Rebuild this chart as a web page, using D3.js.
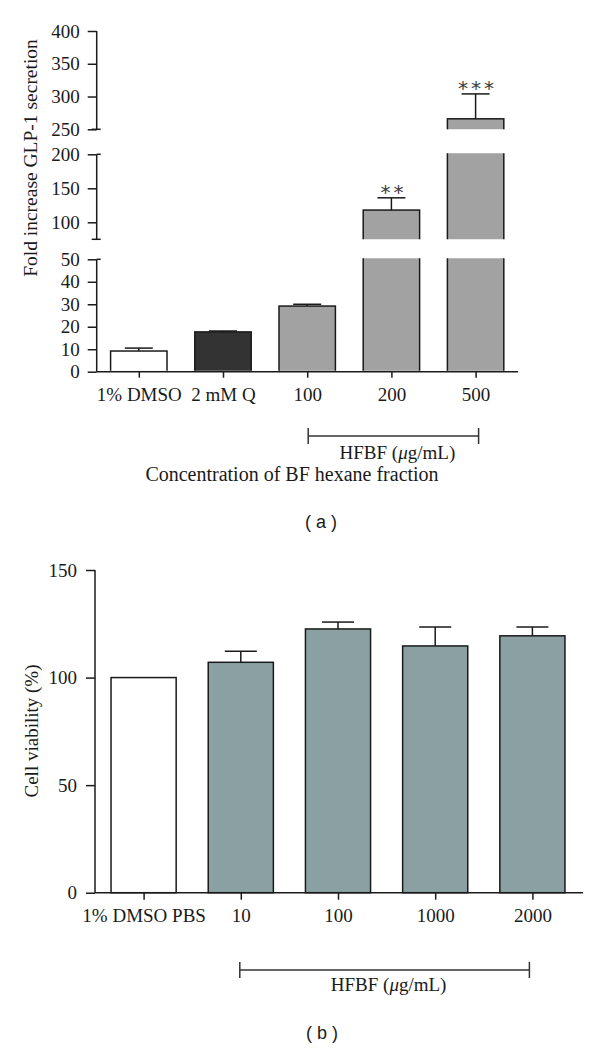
<!DOCTYPE html>
<html>
<head>
<meta charset="utf-8">
<script src="https://cdn.jsdelivr.net/npm/d3@7"></script>
<style>
  html, body { margin: 0; padding: 0; background: #fff; }
  svg { display: block; }
</style>
</head>
<body>
<svg id="chart" width="600" height="1049"></svg>
<script>
// ---------------- Data: panel (a) ----------------
const catsA = ["1% DMSO", "2 mM Q", "100", "200", "500"];
const valsA = [9.2, 17.7, 29.2, 118, 266];
const errA = [1.3, 0.4, 0.8, 18, 38];
const starsA = ["", "", "", "**", "***"];
const segDomainsA = [[0, 50], [75, 200], [250, 400]];
const segTicksA = [[0, 10, 20, 30, 40, 50], [100, 150, 200], [250, 300, 350, 400]];
const yTitleA = "Fold increase GLP-1 secretion";
const xTitleA = "Concentration of BF hexane fraction";
const groupLabel = "HFBF (\u03bcg/mL)";

// ---------------- Data: panel (b) ----------------
const catsB = ["1% DMSO PBS", "10", "100", "1000", "2000"];
const valsB = [100, 107.1, 122.6, 114.7, 119.4];
const errB = [0, 5.1, 3.2, 8.8, 4.1];
const domainB = [0, 150];
const ticksB = [0, 50, 100, 150];
const yTitleB = "Cell viability (%)";

// ---------------- Styles ----------------
const SERIF = "'Liberation Serif', 'Times New Roman', serif";
const SANS = "'Liberation Sans', Arial, sans-serif";
const INK = "#1a1a1a";
const fillA = ["#ffffff", "#333333", "#a2a2a2", "#a2a2a2", "#a2a2a2"];
const fillB = ["#ffffff", "#8aa0a2", "#8aa0a2", "#8aa0a2", "#8aa0a2"];
const FS = 19;

const svg = d3.select("#chart");
const defs = svg.append("defs");

function styleAxis(g) {
  g.selectAll("path.domain").remove();
  g.selectAll(".tick line").attr("stroke", INK).attr("stroke-width", 1.5);
  g.selectAll(".tick text").attr("fill", INK).attr("font-family", SERIF).attr("font-size", FS);
  g.attr("font-family", SERIF);
}

// ================= Panel (a) =================
const axA = 96.7, axAEnd = 518, baseA = 371.7;
const segRangesA = [[371.7, 259.3], [239.3, 154.3], [129.3, 31]];
const xA = d3.scalePoint().domain(catsA).range([axA, axA + 5 * 84.2]).padding(0.5);
const bwA = xA.step() * 0.67;
const ysA = segDomainsA.map((d, i) => d3.scaleLinear().domain(d).range(segRangesA[i]));

const gA = svg.append("g");

// bars per segment, clipped
ysA.forEach((ys, si) => {
  const [d0, d1] = ys.domain();
  const [r0, r1] = ys.range();
  const cid = "clipA" + si;
  defs.append("clipPath").attr("id", cid).append("rect")
    .attr("x", axA).attr("y", r1 - 1).attr("width", axAEnd - axA).attr("height", r0 - r1 + (si === 0 ? 0 : 1));
  const seg = gA.append("g").attr("clip-path", `url(#${cid})`);
  catsA.forEach((c, i) => {
    const v = valsA[i];
    if (v <= d0) return;
    const top = v > d1 ? r1 - 6 : ys(v);
    const bottom = si === 0 ? ys(0) : r0 + 6;
    seg.append("rect")
      .attr("x", xA(c) - bwA / 2).attr("width", bwA)
      .attr("y", top).attr("height", bottom - top)
      .attr("fill", fillA[i]).attr("stroke", INK).attr("stroke-width", 1.5);
  });
});

// error bars + stars
catsA.forEach((c, i) => {
  const v = valsA[i], hi = v + errA[i];
  const si = segDomainsA.findIndex(d => v >= d[0] && v <= d[1]);
  const ys = ysA[si];
  const cx = xA(c);
  gA.append("line").attr("x1", cx).attr("x2", cx).attr("y1", ys(v)).attr("y2", ys(hi))
    .attr("stroke", INK).attr("stroke-width", 1.5);
  gA.append("line").attr("x1", cx - 14).attr("x2", cx + 14).attr("y1", ys(hi)).attr("y2", ys(hi))
    .attr("stroke", INK).attr("stroke-width", 1.5);
  if (starsA[i]) {
    gA.append("text").attr("x", cx + 2).attr("y", ys(hi) + 1)
      .attr("text-anchor", "middle").attr("font-family", "'DejaVu Sans', sans-serif")
      .attr("font-size", 20).attr("letter-spacing", 3).attr("fill", "#3a3a3a")
      .text(starsA[i]);
  }
});

// y axes (segments)
ysA.forEach((ys, si) => {
  const g = gA.append("g").attr("transform", `translate(${axA},0)`)
    .call(d3.axisLeft(ys).tickValues(segTicksA[si]).tickSize(9).tickPadding(8).tickFormat(d3.format("d")));
  styleAxis(g);
  const [r0, r1] = ys.range();
  gA.append("line").attr("x1", axA).attr("x2", axA).attr("y1", r0).attr("y2", r1)
    .attr("stroke", INK).attr("stroke-width", 1.5);
  // break markers
  if (si > 0) gA.append("line").attr("x1", axA - 5).attr("x2", axA + 4).attr("y1", r0).attr("y2", r0)
    .attr("stroke", INK).attr("stroke-width", 1.5);
  if (si < ysA.length - 1) gA.append("line").attr("x1", axA).attr("x2", axA + 4).attr("y1", r1).attr("y2", r1)
    .attr("stroke", INK).attr("stroke-width", 1.5);
});

// x axis
const gxA = gA.append("g").attr("transform", `translate(0,${baseA})`)
  .call(d3.axisBottom(xA).tickSize(6).tickPadding(10));
styleAxis(gxA);
gA.append("line").attr("x1", axA).attr("x2", axAEnd).attr("y1", baseA).attr("y2", baseA)
  .attr("stroke", INK).attr("stroke-width", 1.5);

// y title
gA.append("text").attr("transform", "translate(37,158) rotate(-90)")
  .attr("text-anchor", "middle").attr("font-family", SERIF).attr("font-size", 19.5).attr("fill", INK)
  .text(yTitleA);

// group bracket
function bracket(g, x1, x2, y, label, ly) {
  g.append("line").attr("x1", x1).attr("x2", x2).attr("y1", y).attr("y2", y).attr("stroke", "#333").attr("stroke-width", 1.5);
  [x1, x2].forEach(x => g.append("line").attr("x1", x).attr("x2", x).attr("y1", y - 8).attr("y2", y + 8).attr("stroke", "#333").attr("stroke-width", 1.5));
  const t = g.append("text").attr("x", (x1 + x2) / 2 + 4).attr("y", ly).attr("text-anchor", "middle")
    .attr("font-family", SERIF).attr("font-size", FS).attr("fill", INK);
  t.append("tspan").text("HFBF (");
  t.append("tspan").attr("font-style", "italic").text("\u03bc");
  t.append("tspan").text("g/mL)");
}
bracket(gA, xA(catsA[2]) + 1, xA(catsA[4]) + 3, 436, groupLabel, 459);

gA.append("text").attr("x", 292).attr("y", 481).attr("text-anchor", "middle")
  .attr("font-family", SERIF).attr("font-size", 20).attr("fill", INK).text(xTitleA);
gA.append("text").attr("x", 321).attr("y", 528).attr("text-anchor", "middle")
  .attr("font-family", SANS).attr("font-size", 18).attr("fill", INK).attr("xml:space", "preserve").text("( a )");

// ================= Panel (b) =================
const axB = 95, axBEnd = 583, baseB = 892.7;
const xB = d3.scalePoint().domain(catsB).range([axB, axB + 5 * 97.2]).padding(0.5);
const bwB = xB.step() * 0.67;
const yB = d3.scaleLinear().domain(domainB).range([baseB, 570]);
const gB = svg.append("g");

catsB.forEach((c, i) => {
  gB.append("rect").attr("x", xB(c) - bwB / 2).attr("width", bwB)
    .attr("y", yB(valsB[i])).attr("height", yB(0) - yB(valsB[i]))
    .attr("fill", fillB[i]).attr("stroke", INK).attr("stroke-width", 1.5);
  if (errB[i] > 0) {
    const hi = valsB[i] + errB[i], cx = xB(c);
    gB.append("line").attr("x1", cx).attr("x2", cx).attr("y1", yB(valsB[i])).attr("y2", yB(hi))
      .attr("stroke", INK).attr("stroke-width", 1.5);
    gB.append("line").attr("x1", cx - 16).attr("x2", cx + 16).attr("y1", yB(hi)).attr("y2", yB(hi))
      .attr("stroke", INK).attr("stroke-width", 1.5);
  }
});

const gyB = gB.append("g").attr("transform", `translate(${axB},0)`)
  .call(d3.axisLeft(yB).tickValues(ticksB).tickSize(9).tickPadding(9));
styleAxis(gyB);
gB.append("line").attr("x1", axB).attr("x2", axB).attr("y1", baseB).attr("y2", 570)
  .attr("stroke", INK).attr("stroke-width", 1.5);

const gxB = gB.append("g").attr("transform", `translate(0,${baseB})`)
  .call(d3.axisBottom(xB).tickSize(7).tickPadding(9));
styleAxis(gxB);
gB.append("line").attr("x1", axB).attr("x2", axBEnd).attr("y1", baseB).attr("y2", baseB)
  .attr("stroke", INK).attr("stroke-width", 1.5);

gB.append("text").attr("transform", "translate(38,731) rotate(-90)")
  .attr("text-anchor", "middle").attr("font-family", SERIF).attr("font-size", 19).attr("fill", INK)
  .text(yTitleB);

bracket(gB, xB(catsB[1]) - 1, xB(catsB[4]) - 3, 970, groupLabel, 991);

gB.append("text").attr("x", 322).attr("y", 1039).attr("text-anchor", "middle")
  .attr("font-family", SANS).attr("font-size", 18).attr("fill", INK).attr("xml:space", "preserve").text("( b )");
</script>
</body>
</html>
